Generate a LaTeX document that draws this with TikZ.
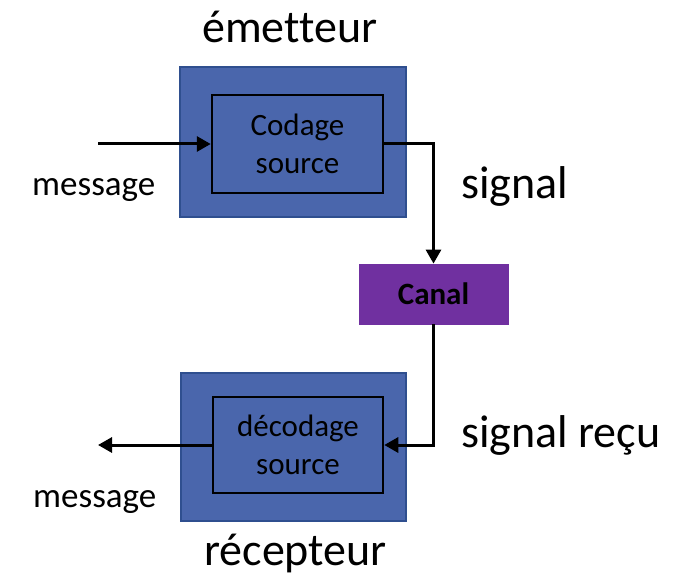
\documentclass[tikz,border=0pt]{standalone}
\usepackage{fontspec}
\setmainfont[Ligatures=NoCommon]{Carlito}
\usetikzlibrary{arrows.meta}
\definecolor{boxblue}{HTML}{4A66AC}
\definecolor{boxedge}{HTML}{2F4F8F}
\definecolor{canalpurple}{HTML}{7030A0}
\tikzset{
  outerbox/.style={draw=boxedge, line width=1.5pt, fill=boxblue, inner sep=0pt},
  innerbox/.style={draw=black, line width=2.5pt, fill=boxblue, inner sep=0pt, align=center, font=\fontsize{31}{38}\selectfont},
  canalbox/.style={fill=canalpurple, draw=canalpurple, line width=0.8pt, inner sep=0pt, font=\fontsize{31}{31}\selectfont\bfseries},
  bigtxt/.style={inner sep=0pt, anchor=base west, font=\fontsize{46}{46}\selectfont},
  msgtxt/.style={inner sep=0pt, anchor=base west, font=\fontsize{35}{35}\selectfont},
  conn/.style={line width=3pt, -{Triangle[length=14pt,width=15pt]}},
  plainconn/.style={line width=3pt}
}
\begin{document}
\begin{tikzpicture}[x=1pt,y=-1pt]
\useasboundingbox (0,0) rectangle (692,580);
% emitter
\node[outerbox, minimum width=226pt, minimum height=150pt] (emit) at (293,142) {};
\node[innerbox, minimum width=171pt, minimum height=98pt] (enc) at (297.5,144) {Codage\\source};
% canal
\node[canalbox, minimum width=149pt, minimum height=60pt] (canal) at (433.5,294) {Canal};
% receiver
\node[outerbox, minimum width=225pt, minimum height=148pt] (recv) at (293.5,447) {};
\node[innerbox, minimum width=170pt, minimum height=96pt] (dec) at (298,445) {décodage\\source};
% labels
\node[bigtxt] (lemit) at (202,43) {émetteur};
\node[bigtxt] (lsig) at (461,198) {signal};
\node[bigtxt] (lsigr) at (461,447) {signal reçu};
\node[bigtxt] (lrecv) at (204,565) {récepteur};
\node[msgtxt] (lmsg1) at (32,195) {message};
\node[msgtxt] (lmsg2) at (33,507) {message};
% connectors
\coordinate (in1) at (98,144);
\coordinate (out1) at (98,445);
\draw[conn] (in1) -- (enc.west);
\draw[conn] (enc.east) -| (canal.north);
\draw[conn] (canal.south) |- (dec.east);
\draw[conn] (dec.west) -- (out1);
\end{tikzpicture}
\end{document}
